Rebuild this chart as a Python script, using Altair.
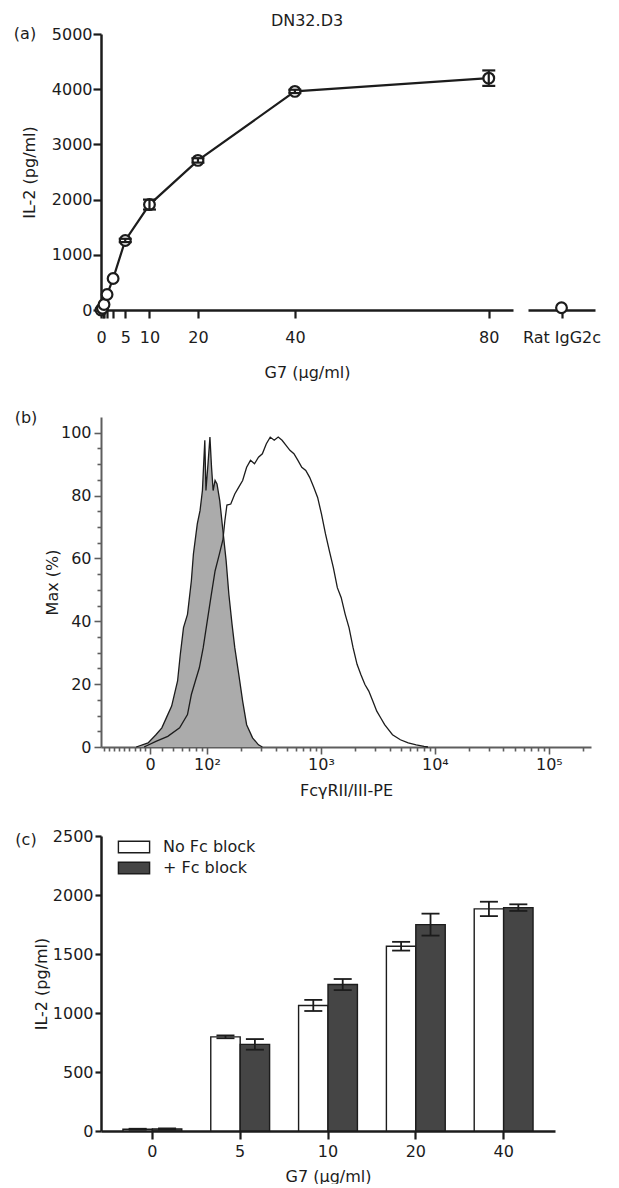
import math
import altair as alt
import pandas as pd

FONT = "DejaVu Sans"
INK = "#1c1c1c"
AXIS_GREY = "#5e5e5e"

# ---------------- data: panel (a) ----------------
a_title = "DN32.D3"
a_dose = [0, 0.3125, 0.625, 1.25, 2.5, 5, 10, 20, 40, 80]
a_il2 = [0, 30, 100, 280, 570, 1260, 1910, 2710, 3960, 4200]
a_err = [0, 0, 0, 0, 0, 30, 90, 40, 30, 140]
a_ctrl_label = ["Rat IgG2c"]
a_ctrl_il2 = [40]
a_dose_ticks = [0, 0.3125, 0.625, 1.25, 2.5, 5, 10, 20, 40, 80]
a_dose_labels = [0, 5, 10, 20, 40, 80]
a_il2_ticks = [0, 1000, 2000, 3000, 4000, 5000]

# ---------------- data: panel (b) (x in display decades of the biexponential axis) ----------------
b_iso_pos = [-0.121, -0.017, 0.052, 0.104, 0.156, 0.190, 0.242, 0.266, 0.294, 0.329,
             0.363, 0.381, 0.415, 0.439, 0.460, 0.471, 0.481, 0.491, 0.509, 0.526,
             0.540, 0.554, 0.571, 0.588, 0.612, 0.640, 0.668, 0.692, 0.720, 0.744,
             0.779, 0.813, 0.848, 0.900, 0.952, 0.986]
b_iso_pct = [0, 1.3, 3.9, 6.1, 10.3, 13, 21, 29.5, 38, 42.2,
             52.9, 61.4, 71, 75.2, 81.6, 90, 97.6, 81.6, 90.1, 98.6,
             89, 81.6, 84.8, 83.7, 78.4, 68.8, 59.3, 48.6, 39, 31.6,
             23.1, 14.6, 7.1, 2.9, 0.7, 0]
b_stain_pos = [-0.052, 0.052, 0.156, 0.260, 0.329, 0.363, 0.398, 0.433, 0.467, 0.502,
               0.536, 0.571, 0.606, 0.640, 0.657, 0.675, 0.709, 0.744, 0.779, 0.813,
               0.848, 0.882, 0.917, 0.952, 0.986, 1.021, 1.055, 1.090, 1.125, 1.159,
               1.194, 1.228, 1.263, 1.298, 1.332, 1.367, 1.401, 1.436, 1.471, 1.505,
               1.540, 1.574, 1.609, 1.644, 1.678, 1.713, 1.747, 1.782, 1.817, 1.851,
               1.886, 1.920, 1.955, 1.990, 2.024, 2.059, 2.093, 2.128, 2.197, 2.266,
               2.336, 2.405, 2.439]
b_stain_pct = [0, 1.8, 3.4, 6.1, 10.3, 16.7, 21, 25.2, 31.6, 40,
               48, 56, 61, 66, 72, 77, 77.3, 80.5, 82.7, 84.8,
               89, 91.2, 90.1, 92.2, 93.3, 96.5, 98.6, 97.6, 98.6, 97.6,
               96, 94.4, 93.3, 91.2, 89, 88, 85.8, 82.7, 79.4, 74.1,
               67.8, 62.4, 57.1, 50.7, 47.5, 42.2, 37.9, 31.6, 26.3, 23,
               19.9, 17.8, 14.6, 11.4, 9.3, 7.1, 5.5, 3.9, 2.3, 1.3,
               0.7, 0.2, 0]
b_tick_pos = [0, 0.5, 1.5, 2.5, 3.5]
b_tick_labels = ["0", "10²", "10³", "10⁴", "10⁵"]
b_pct_ticks = [0, 20, 40, 60, 80, 100]

# ---------------- data: panel (c) ----------------
c_groups = ["0", "5", "10", "20", "40"]
c_conditions = ["No Fc block", "+ Fc block"]
c_no_block = [15, 798, 1064, 1566, 1882]
c_no_block_err = [4, 12, 47, 37, 61]
c_fc_block = [18, 734, 1241, 1749, 1893]
c_fc_block_err = [4, 45, 47, 93, 28]
c_il2_ticks = [0, 500, 1000, 1500, 2000, 2500]

panel_labels = ["(a)", "(b)", "(c)"]


def panel_label(text, dx, dy):
    return alt.Chart(pd.DataFrame({"t": [text]})).mark_text(
        font=FONT, fontSize=16, align="center", baseline="middle", color=INK
    ).encode(x=alt.value(dx), y=alt.value(dy), text="t:N")


# ================= panel (a) =================
df_a = pd.DataFrame({"dose": a_dose, "il2": a_il2, "err": a_err})
xa_scale = alt.Scale(domain=[0, 85], nice=False, zero=False)
ya_scale = alt.Scale(domain=[0, 5000], nice=False)
xa_axis = alt.Axis(values=a_dose_ticks,
                   labelExpr=f"indexof({a_dose_labels}, datum.value) >= 0 ? datum.label : ''",
                   labelOverlap=False, labelFlush=False, title="G7 (µg/ml)",
                   tickSize=8, labelPadding=11, titlePadding=19,
                   domainWidth=2.5, tickWidth=2.2)
ya_axis = alt.Axis(values=a_il2_ticks, format="d", title="IL-2 (pg/ml)", tickSize=8, labelPadding=1,
                   titlePadding=14, domainWidth=2.5, tickWidth=2.2, labelFlush=False)

base_a = alt.Chart(df_a)
line_a = base_a.mark_line(color=INK, strokeWidth=2.2).encode(
    x=alt.X("dose:Q", scale=xa_scale, axis=xa_axis),
    y=alt.Y("il2:Q", scale=ya_scale, axis=ya_axis))
pts_a = base_a.mark_point(shape="circle", size=115, fill="white", stroke=INK,
                          strokeWidth=2.2, opacity=1).encode(
    x=alt.X("dose:Q", scale=xa_scale, axis=xa_axis),
    y=alt.Y("il2:Q", scale=ya_scale, axis=ya_axis))
err_base_a = base_a.transform_filter("datum.err > 0").transform_calculate(
    lo="datum.il2 - datum.err", hi="datum.il2 + datum.err")
rule_a = err_base_a.mark_rule(color=INK, strokeWidth=2.2).encode(
    x=alt.X("dose:Q", scale=xa_scale, axis=xa_axis),
    y=alt.Y("lo:Q", scale=ya_scale, axis=ya_axis), y2="hi:Q")
cap_a = err_base_a.transform_fold(["lo", "hi"], as_=["end", "val"]).mark_tick(
    orient="horizontal", size=13, thickness=2.2, color=INK, opacity=1).encode(
    x=alt.X("dose:Q", scale=xa_scale, axis=xa_axis),
    y=alt.Y("val:Q", scale=ya_scale, axis=ya_axis))

main_a = alt.layer(line_a, pts_a, rule_a, cap_a, panel_label(panel_labels[0], -76, 0)).properties(
    width=412, height=276,
    title=alt.TitleParams(a_title, font=FONT, fontSize=16, fontWeight="normal",
                          anchor="middle", offset=-3, color=INK))

df_ctrl = pd.DataFrame({"label": a_ctrl_label, "il2": a_ctrl_il2})
ctrl_a = alt.Chart(df_ctrl).mark_point(shape="circle", size=115, fill="white", stroke=INK,
                                       strokeWidth=2.2, opacity=1).encode(
    x=alt.X("label:N", title=None,
            axis=alt.Axis(labelAngle=0, tickSize=8, labelPadding=11, domainWidth=2.5, tickWidth=2.2)),
    y=alt.Y("il2:Q", scale=ya_scale, axis=None)).properties(width=67, height=276)

panel_a = alt.hconcat(main_a, ctrl_a, spacing=9)

# ================= panel (b) =================
df_b = pd.concat([
    pd.DataFrame({"pos": b_iso_pos, "pct": b_iso_pct, "series": "isotype"}),
    pd.DataFrame({"pos": b_stain_pos, "pct": b_stain_pct, "series": "stain"}),
], ignore_index=True)

log_minor = [math.log10(k) for k in range(2, 10)]
b_minor = [round(-0.405 + 0.045 * i, 4) for i in range(9)]
b_minor += [round(-0.5 + m, 4) for m in log_minor if -0.5 + m > 0.05]
b_minor += [round(d + m, 4) for d in (0.5, 1.5, 2.5) for m in log_minor]
b_minor += [round(3.5 + m, 4) for m in log_minor if 3.5 + m < 3.87]
b_x_values = sorted(set(b_tick_pos + b_minor))

lab_expr = "".join(f"datum.value === {p} ? '{t}' : " for p, t in zip(b_tick_pos, b_tick_labels)) + "''"
major_test = f"indexof({b_tick_pos}, datum.value) >= 0"

xb = alt.X("pos:Q", scale=alt.Scale(domain=[-0.43, 3.87], nice=False, zero=False),
           axis=alt.Axis(values=b_x_values, labelExpr=lab_expr, labelOverlap=False, labelFlush=False,
                         title="FcγRII/III-PE",
                         tickSize={"condition": {"test": major_test, "value": 7}, "value": 4},
                         labelPadding=2, titlePadding=10, domainWidth=2, tickWidth=1.6,
                         domainColor=AXIS_GREY, tickColor=AXIS_GREY))
yb = alt.Y("pct:Q", scale=alt.Scale(domain=[0, 105], nice=False),
           axis=alt.Axis(values=list(range(0, 101, 5)),
                         labelExpr="datum.value % 20 === 0 ? datum.label : ''",
                         labelOverlap=False, labelFlush=False, title="Max (%)",
                         tickSize={"condition": {"test": "datum.value % 20 === 0", "value": 7}, "value": 4},
                         labelPadding=3, titlePadding=0, domainWidth=2, tickWidth=1.6,
                         domainColor=AXIS_GREY, tickColor=AXIS_GREY))

base_b = alt.Chart(df_b)
iso_area = base_b.transform_filter("datum.series === 'isotype'").mark_area(
    color="#ababab", opacity=1, line={"color": INK, "strokeWidth": 1.3}).encode(x=xb, y=yb)
stain_line = base_b.transform_filter("datum.series === 'stain'").mark_line(
    color=INK, strokeWidth=1.3).encode(x=xb, y=yb)

panel_b = alt.layer(iso_area, stain_line, panel_label(panel_labels[1], -75, 1)).properties(
    width=490, height=330)

# ================= panel (c) =================
rows = []
for g, v, e in zip(c_groups, c_no_block, c_no_block_err):
    rows.append({"g": g, "cond": c_conditions[0], "val": v, "err": e})
for g, v, e in zip(c_groups, c_fc_block, c_fc_block_err):
    rows.append({"g": g, "cond": c_conditions[1], "val": v, "err": e})
df_c = pd.DataFrame(rows)

yc_scale = alt.Scale(domain=[0, 2500], nice=False)
xc_axis = alt.Axis(labelAngle=0, title="G7 (µg/ml)", tickSize=8, labelPadding=4, titlePadding=9,
                   domainWidth=2.5, tickWidth=2.2)
yc_axis = alt.Axis(values=c_il2_ticks, format="d", title="IL-2 (pg/ml)", tickSize=6, labelPadding=2,
                   titlePadding=3, domainWidth=2.5, tickWidth=2.2, labelFlush=False)
xc = alt.X("g:N", sort=c_groups, scale=alt.Scale(paddingInner=0.33, paddingOuter=0.25), axis=xc_axis)
xoff = alt.XOffset("cond:N", sort=c_conditions)

base_c = alt.Chart(df_c)
bars = base_c.mark_bar(stroke=INK, strokeWidth=1.4).encode(
    x=xc, xOffset=xoff,
    y=alt.Y("val:Q", scale=yc_scale, axis=yc_axis),
    fill=alt.Fill("cond:N", sort=c_conditions,
                  scale=alt.Scale(domain=c_conditions, range=["#ffffff", "#454545"]),
                  legend=alt.Legend(orient="none", legendX=25, legendY=805, title=None,
                                    symbolType="M-2.6,-0.97H2.6V0.97H-2.6Z", symbolSize=144,
                                    symbolStrokeColor=INK, symbolStrokeWidth=1.4,
                                    labelFont=FONT, labelFontSize=16, labelColor=INK,
                                    labelOffset=21, rowPadding=3, padding=0)))
err_base_c = base_c.transform_calculate(lo="datum.val - datum.err", hi="datum.val + datum.err")
rule_c = err_base_c.mark_rule(color=INK, strokeWidth=1.8).encode(
    x=xc, xOffset=xoff, y=alt.Y("lo:Q", scale=yc_scale, axis=yc_axis), y2="hi:Q")
cap_c = err_base_c.transform_fold(["lo", "hi"], as_=["end", "v"]).mark_tick(
    orient="horizontal", size=18, thickness=1.8, color=INK, opacity=1).encode(
    x=xc, xOffset=xoff, y=alt.Y("v:Q", scale=yc_scale, axis=yc_axis))

panel_c = alt.layer(bars, rule_c, cap_c, panel_label(panel_labels[2], -75, 4)).properties(
    width=454, height=295)

chart = alt.vconcat(panel_a, panel_b, panel_c, spacing=30).properties(
    padding={"left": 5, "top": 5, "right": 5, "bottom": 0}
).configure(
    font=FONT
).configure_view(stroke=None).configure_axis(
    grid=False, labelFont=FONT, titleFont=FONT, labelFontSize=16, titleFontSize=16,
    titleFontWeight="normal", labelColor=INK, titleColor=INK,
    domainColor=INK, tickColor=INK
)

chart.save("out.html", embed_options={"renderer": "svg", "actions": False})
